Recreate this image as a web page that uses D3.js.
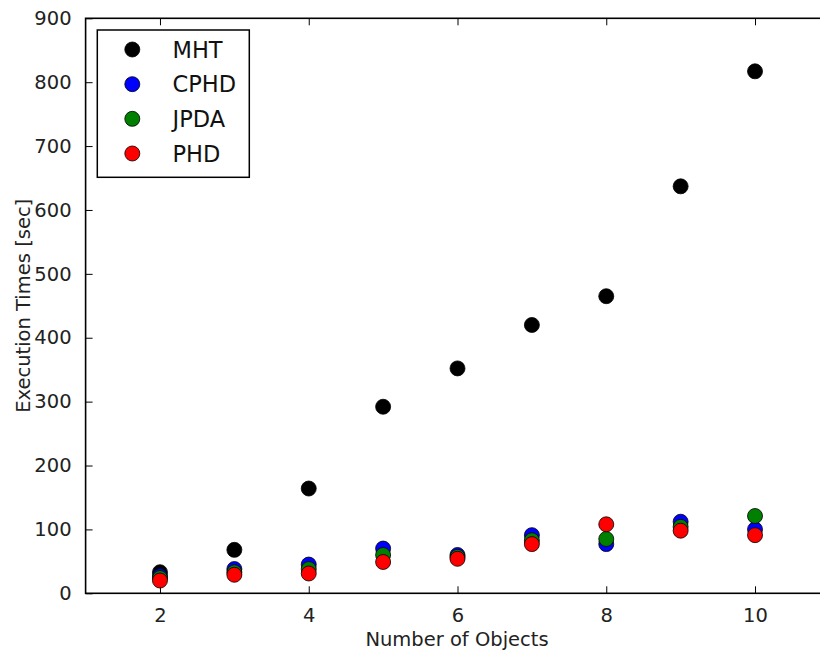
<!DOCTYPE html>
<html>
<head>
<meta charset="utf-8">
<script src="https://cdn.jsdelivr.net/npm/d3@7"></script>
<style>
  html, body { margin: 0; padding: 0; background: #fff; overflow: hidden; }
  svg { display: block; font-family: "DejaVu Sans", sans-serif; }
</style>
</head>
<body>
<svg id="chart" width="820" height="653"></svg>
<script>
// Execution time per tracker versus number of objects
const objects = [2, 3, 4, 5, 6, 7, 8, 9, 10];
const mht  = [33, 68, 164, 292, 352, 420, 465, 637, 817];
const cphd = [27, 38, 45, 70, 60, 91, 77, 112, 100];
const jpda = [24, 33, 38, 60, 57, 83, 85, 104, 121];
const phd  = [20, 29, 31, 49, 54, 77, 108, 98, 91];

const seriesNames = ["MHT", "CPHD", "JPDA", "PHD"];
const seriesValues = [mht, cphd, jpda, phd];
const seriesColors = ["#000000", "#0000ff", "#008000", "#ff0000"];

const xTicks = [2, 4, 6, 8, 10];
const yTicks = [0, 100, 200, 300, 400, 500, 600, 700, 800, 900];

const svg = d3.select("#chart");
const plotLeft = 85.6, plotRight = 829.4, plotTop = 18.3, plotBottom = 593.3;

const x = d3.scaleLinear().domain([1, 11]).range([plotLeft, plotRight]);
const y = d3.scaleLinear().domain([0, 900]).range([plotBottom, plotTop]);

const tickLen = 7;
const tickFont = 19.5;

// Inward ticks on all sides
const axisBottom = d3.axisBottom(x).tickValues(xTicks).tickSizeInner(-tickLen).tickSizeOuter(0).tickPadding(tickLen + 8);
const axisTop = d3.axisTop(x).tickValues(xTicks).tickSizeInner(-tickLen).tickSizeOuter(0).tickFormat("");
const axisLeft = d3.axisLeft(y).tickValues(yTicks).tickSizeInner(-tickLen).tickSizeOuter(0).tickPadding(tickLen + 7);

function styleAxis(g) {
  g.select(".domain").remove();
  g.selectAll(".tick line").attr("stroke", "#000").attr("stroke-width", 1);
  g.selectAll(".tick text").attr("fill", "#222").style("font-size", tickFont + "px").style("font-family", "DejaVu Sans, sans-serif");
}

svg.append("g").attr("transform", `translate(0,${plotBottom})`).call(axisBottom).call(styleAxis);
svg.append("g").attr("transform", `translate(0,${plotTop})`).call(axisTop).call(styleAxis);
svg.append("g").attr("transform", `translate(${plotLeft},0)`).call(axisLeft).call(styleAxis);

// Plot frame
svg.append("rect")
  .attr("x", plotLeft).attr("y", plotTop)
  .attr("width", plotRight - plotLeft).attr("height", plotBottom - plotTop)
  .attr("fill", "none").attr("stroke", "#000").attr("stroke-width", 1.6);

// Markers, drawn series by series
const r = 7.5;
seriesValues.forEach((vals, i) => {
  svg.append("g").selectAll("circle")
    .data(objects.map((o, j) => [o, vals[j]]))
    .join("circle")
    .attr("cx", d => x(d[0]))
    .attr("cy", d => y(d[1]))
    .attr("r", r)
    .attr("fill", seriesColors[i])
    .attr("stroke", "#000")
    .attr("stroke-width", 0.8);
});

// Axis titles
svg.append("text")
  .attr("x", 457).attr("y", 646)
  .attr("text-anchor", "middle")
  .attr("fill", "#222")
  .style("font-size", "19.5px")
  .text("Number of Objects");

svg.append("text")
  .attr("transform", `translate(29.5,${(plotTop + plotBottom) / 2}) rotate(-90)`)
  .attr("text-anchor", "middle")
  .attr("fill", "#222")
  .style("font-size", "19.5px")
  .text("Execution Times [sec]");

// Legend
const legend = svg.append("g");
legend.append("rect")
  .attr("x", 97.3).attr("y", 30)
  .attr("width", 152).attr("height", 147.3)
  .attr("fill", "#fff").attr("stroke", "#000").attr("stroke-width", 1.5);

const legendRow = d3.scaleLinear().domain([0, 3]).range([49.5, 153.5]);
seriesNames.forEach((name, i) => {
  legend.append("circle")
    .attr("cx", 132.3).attr("cy", legendRow(i))
    .attr("r", r)
    .attr("fill", seriesColors[i])
    .attr("stroke", "#000").attr("stroke-width", 0.8);
  legend.append("text")
    .attr("x", 172.5).attr("y", legendRow(i))
    .attr("dy", "0.36em")
    .attr("fill", "#111")
    .style("font-size", "22.5px")
    .text(name);
});
</script>
</body>
</html>
